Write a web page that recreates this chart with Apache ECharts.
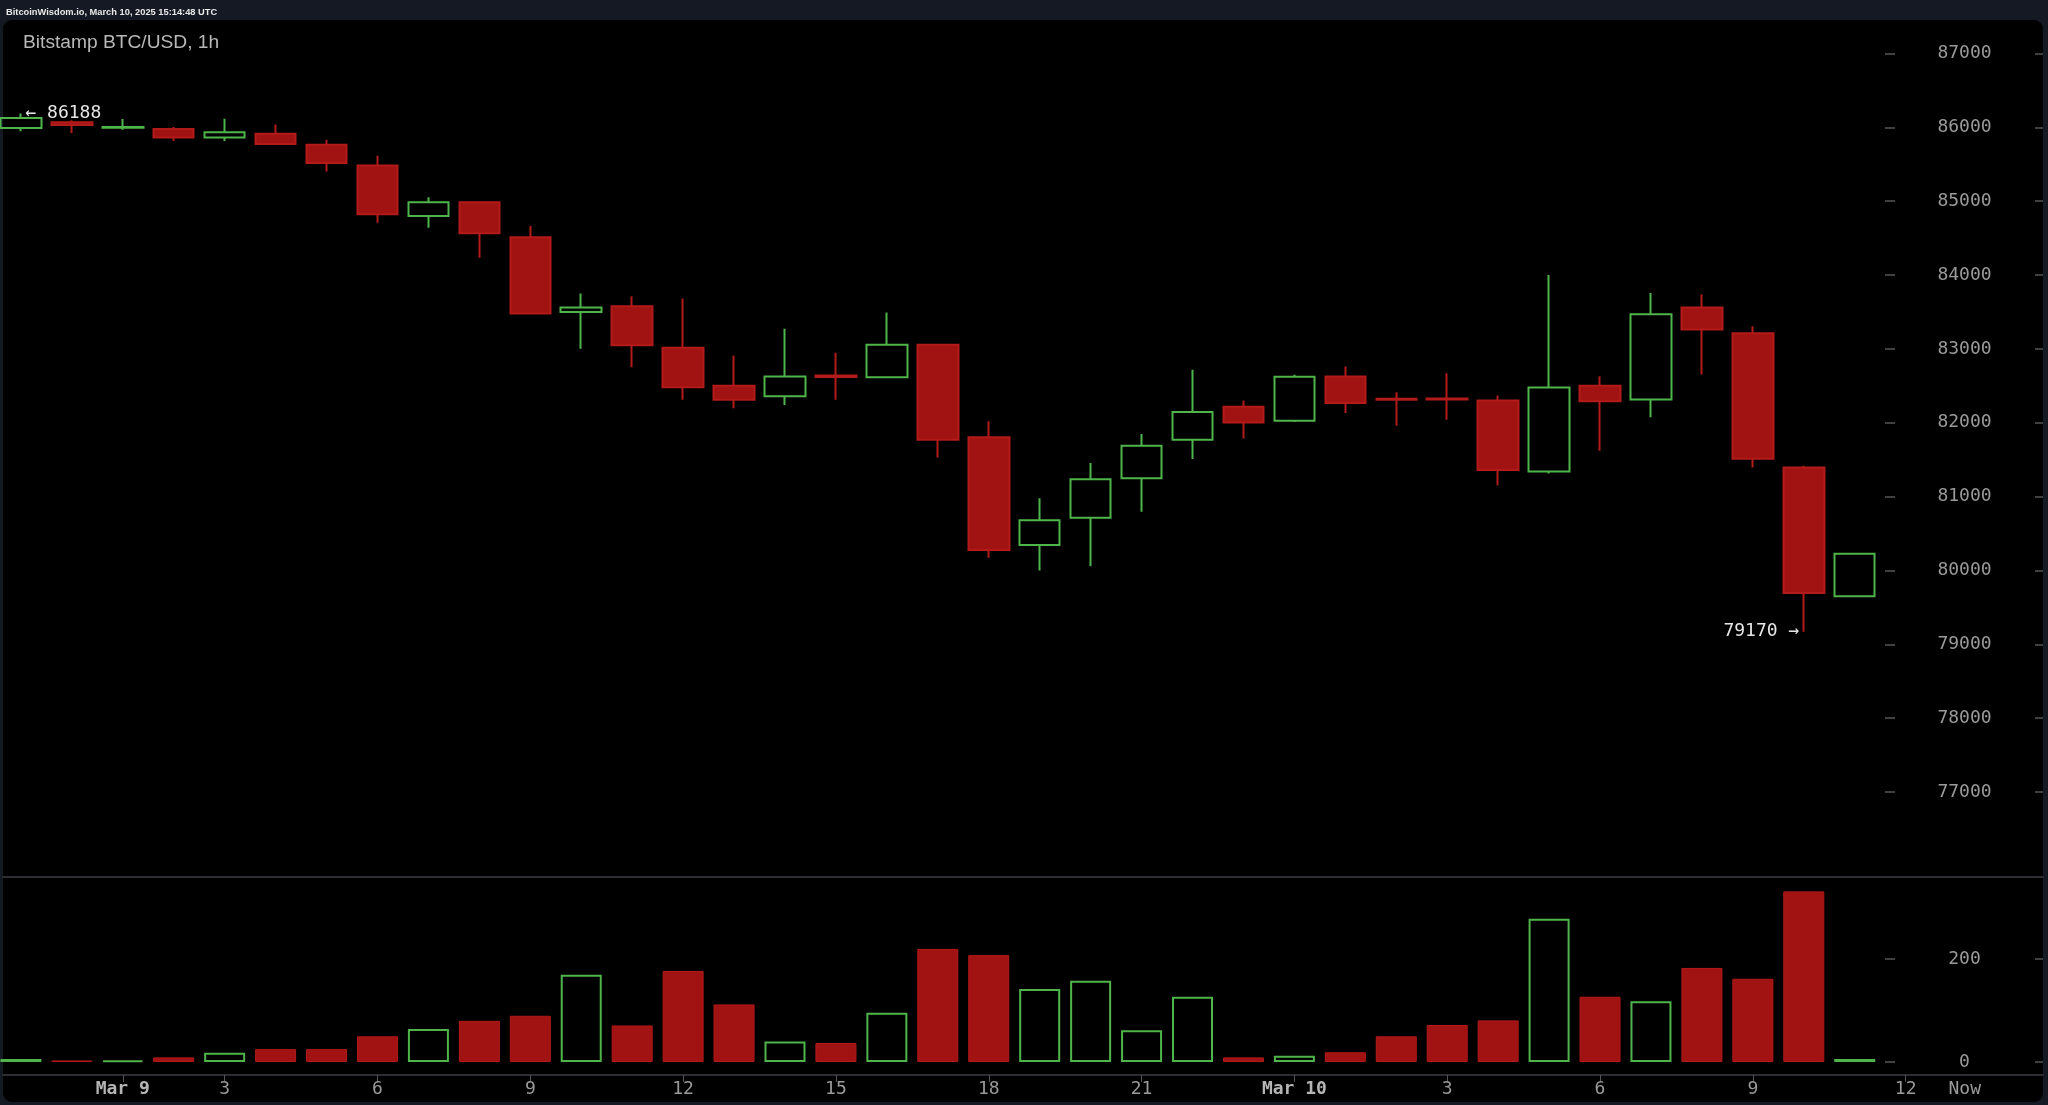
<!DOCTYPE html>
<html><head><meta charset="utf-8">
<script src="https://cdn.jsdelivr.net/npm/echarts@6/dist/echarts.min.js"></script>
<style>html,body{margin:0;padding:0;background:#151923;}#c{width:2048px;height:1105px;}</style>
</head><body><div id="c"></div>
<script>
// hourly candles, Mar 8 22:00 -> Mar 10 11:00 (US Eastern, DST switch on Mar 9)
const hours = ['Mar 8 22:00','Mar 8 23:00','Mar 9 00:00','Mar 9 01:00','Mar 9 03:00','Mar 9 04:00','Mar 9 05:00','Mar 9 06:00','Mar 9 07:00','Mar 9 08:00','Mar 9 09:00','Mar 9 10:00','Mar 9 11:00','Mar 9 12:00','Mar 9 13:00','Mar 9 14:00','Mar 9 15:00','Mar 9 16:00','Mar 9 17:00','Mar 9 18:00','Mar 9 19:00','Mar 9 20:00','Mar 9 21:00','Mar 9 22:00','Mar 9 23:00','Mar 10 00:00','Mar 10 01:00','Mar 10 02:00','Mar 10 03:00','Mar 10 04:00','Mar 10 05:00','Mar 10 06:00','Mar 10 07:00','Mar 10 08:00','Mar 10 09:00','Mar 10 10:00','Mar 10 11:00'];
const opens  = [85992,86068,85995,85978,85864,85914,85765,85484,84800,84986,84511,83500,83577,83016,82500,82359,82640,82617,83057,81802,80344,80715,81250,81770,82215,82028,82626,82325,82330,82300,81340,82500,82314,83560,83211,81394,79651];
const closes = [86128,86033,86005,85864,85932,85774,85516,84823,84986,84565,83478,83560,83048,82481,82310,82626,82620,83057,81770,80276,80679,81236,81689,82147,82005,82622,82269,82310,82315,81359,82477,82291,83469,83264,81512,79696,80226];
const lows   = [85946,85924,85969,85815,85815,85770,85402,84709,84641,84234,83470,83003,82753,82310,82196,82242,82310,82610,81530,80171,80000,80058,80796,81508,81788,82010,82133,81960,82042,81155,81312,81621,82073,82653,81394,79170,79651];
const highs  = [86188,86095,86114,86005,86118,86037,85833,85615,85054,84990,84665,83750,83713,83682,82912,83274,82948,83492,83060,82019,80978,81454,81848,82717,82300,82650,82762,82413,82671,82368,84000,82630,83758,83740,83306,81417,80226];
const volumes = [6,3,3,9,18,25,25,50,64,80,90,170,71,177,112,40,37,96,220,208,142,158,62,127,9,12,19,50,72,81,279,127,118,183,162,332,6];

const xLabelValues = [2,4,7,10,13,16,19,22,25,28,31,34,37,38.16];
const xLabelTexts  = ['Mar 9','3','6','9','12','15','18','21','Mar 10','3','6','9','12','Now'];
const xTickValues  = [2,4,7,10,13,16,19,22,25,28,31,34,37];
const volumeTicks = [0,200];

const GREEN = '#4fb54a', RED = '#a11212', RED_B = '#b31a1a';
const MONO = '"DejaVu Sans Mono", monospace';
const SANS = '"Liberation Sans", Arial, sans-serif';
const X_MIN = -0.3514, X_MAX = 39.696;
const P_MIN = 77000, P_MAX = 87000, V_MAX = 360;

let hiIdx = 0, loIdx = 0;
highs.forEach((h,i)=>{ if (h > highs[hiIdx]) hiIdx = i; });
lows.forEach((l,i)=>{ if (l < lows[loIdx]) loIdx = i; });

const candleData = opens.map((o,i)=>[i, o, closes[i], lows[i], highs[i]]);
const volumeData = volumes.map((v,i)=>{
  const up = closes[i] >= opens[i];
  return { value:[i, v], itemStyle: up
    ? {color:'rgba(0,0,0,0)', borderColor:GREEN, borderWidth:2}
    : {color:RED, borderColor:RED_B, borderWidth:1} };
});

const tickStyle = {color:'#555', width:1.5};
const noLine = {show:false, onZero:false};
const chart = echarts.init(document.getElementById('c'));
chart.setOption({
  backgroundColor:'#151923',
  animation:false,
  graphic:[{type:'rect', z:-10, silent:true, shape:{x:3,y:20,width:2040,height:1082,r:9}, style:{fill:'#000'}}],
  title:[
    {text:'BitcoinWisdom.io, March 10, 2025 15:14:48 UTC', left:6, top:7.5, padding:0, textStyle:{color:'#e8e8e8', fontSize:9.3, fontWeight:'bold', fontFamily:SANS}},
    {text:'Bitstamp BTC/USD, 1h', left:23, top:33.5, padding:0, textStyle:{color:'#b8b8b8', fontSize:19.2, fontWeight:'normal', fontFamily:SANS}}
  ],
  grid:[
    {left:3, right:5, top:53.5, height:738.5},
    {left:3, right:5, top:877, height:185},
    {left:1885, width:10, top:53.5, height:738.5},
    {left:1885, width:10, top:877, height:185}
  ],
  xAxis:[
    {gridIndex:0, type:'value', min:X_MIN, max:X_MAX, offset:85,
      axisLine:{show:true, onZero:false, lineStyle:{color:'#3a3d44', width:1.5}}, axisTick:{show:false}, axisLabel:{show:false}, splitLine:{show:false}},
    {gridIndex:1, type:'value', min:X_MIN, max:X_MAX, offset:13,
      axisLine:{show:true, onZero:false, lineStyle:{color:'#3a3d44', width:1.5}},
      axisTick:{show:true, customValues:xTickValues, length:7, lineStyle:{color:'#555'}},
      axisLabel:{show:true, customValues:xLabelValues, margin:5, color:'#9a9a9a', fontSize:18, fontFamily:MONO,
        formatter:(v)=>{ const k = xLabelValues.indexOf(v); const t = k>=0 ? xLabelTexts[k] : ''; return t.startsWith('Mar') ? '{b|'+t+'}' : t; },
        rich:{b:{fontWeight:'bold', color:'#b5b5b5', fontSize:18, fontFamily:MONO}}},
      splitLine:{show:false}},
    {gridIndex:2, type:'value', show:false, min:0, max:1, axisLine:noLine},
    {gridIndex:3, type:'value', show:false, min:0, max:1, axisLine:noLine}
  ],
  yAxis:[
    {gridIndex:0, type:'value', position:'right', min:P_MIN, max:P_MAX, interval:1000,
      axisLine:noLine, splitLine:{show:false},
      axisTick:{show:true, inside:true, length:8, lineStyle:tickStyle},
      axisLabel:{show:true, inside:true, align:'center', margin:78.5, color:'#9a9a9a', fontSize:18, fontFamily:MONO, formatter:(v)=>String(v)}},
    {gridIndex:1, type:'value', position:'right', min:0, max:V_MAX,
      axisLine:noLine, splitLine:{show:false},
      axisTick:{show:true, inside:true, length:8, customValues:volumeTicks, lineStyle:tickStyle},
      axisLabel:{show:true, inside:true, align:'center', margin:78.5, customValues:volumeTicks, color:'#9a9a9a', fontSize:18, fontFamily:MONO, formatter:(v)=>String(v)}},
    {gridIndex:2, type:'value', position:'left', min:P_MIN, max:P_MAX, interval:1000,
      axisLine:noLine, splitLine:{show:false}, axisLabel:{show:false},
      axisTick:{show:true, inside:true, length:10, lineStyle:tickStyle}},
    {gridIndex:3, type:'value', position:'left', min:0, max:V_MAX,
      axisLine:noLine, splitLine:{show:false}, axisLabel:{show:false},
      axisTick:{show:true, inside:true, length:10, customValues:volumeTicks, lineStyle:tickStyle}}
  ],
  series:[
    {type:'candlestick', xAxisIndex:0, yAxisIndex:0, data:candleData, encode:{x:0, y:[1,2,3,4]},
      barWidth:41, clip:true,
      itemStyle:{color:'rgba(0,0,0,0)', color0:RED, borderColor:GREEN, borderColor0:RED_B, borderWidth:2},
      markPoint:{symbol:'circle', symbolSize:1, itemStyle:{color:'rgba(0,0,0,0)'},
        label:{show:true, color:'#e6e6e6', fontSize:18, fontFamily:MONO, distance:4},
        data:[
          {coord:[hiIdx, highs[hiIdx]], label:{position:'right', formatter:'← '+highs[hiIdx]}},
          {coord:[loIdx, lows[loIdx]], label:{position:'left', formatter:lows[loIdx]+' →'}}
        ]}},
    {type:'bar', xAxisIndex:1, yAxisIndex:1, data:volumeData, barWidth:41, clip:true}
  ]
});
</script></body></html>
